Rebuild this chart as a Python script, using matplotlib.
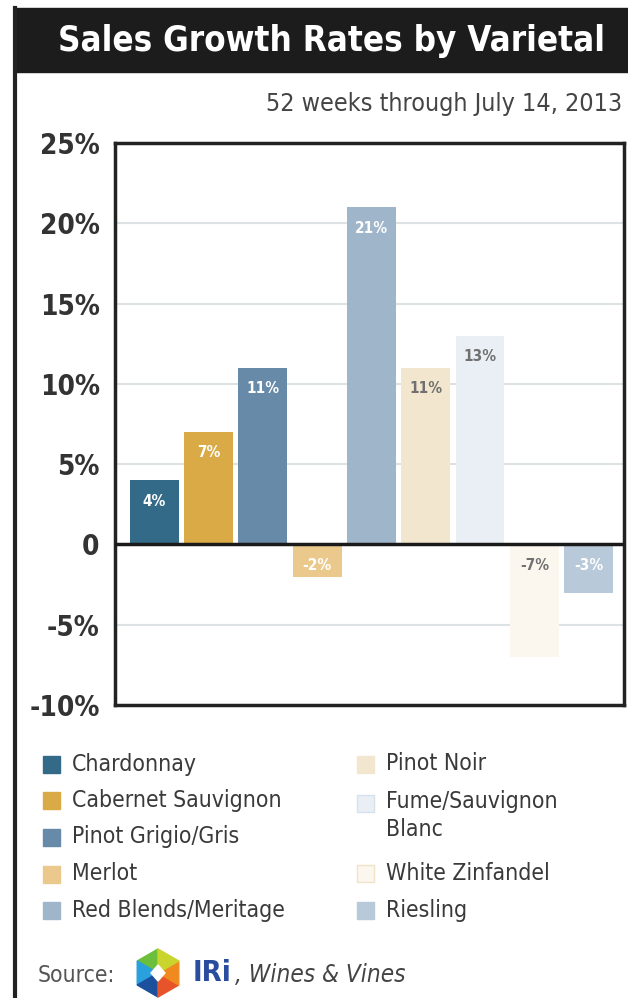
import os
import numpy as np
import matplotlib
matplotlib.use('Agg')
import matplotlib.pyplot as plt
from matplotlib.patches import Rectangle, Polygon
from matplotlib.lines import Line2D
from matplotlib import font_manager

varietals = ['Chardonnay', 'Cabernet Sauvignon', 'Pinot Grigio/Gris', 'Merlot',
             'Red Blends/Meritage', 'Pinot Noir', 'Fume/Sauvignon\nBlanc',
             'White Zinfandel', 'Riesling']
growth = [4, 7, 11, -2, 21, 11, 13, -7, -3]
colors = ['#336a87', '#d9aa45', '#668aa7', '#ebc98d', '#9fb5ca',
          '#f3e6cf', '#e9eff5', '#fbf6ee', '#b8c9da']
label_colors = ['white', 'white', 'white', 'white', 'white',
                '#707070', '#707070', '#707070', 'white']
yticks = [25, 20, 15, 10, 5, 0, -5, -10]
ytick_labels = ['25%', '20%', '15%', '10%', '5%', '0', '-5%', '-10%']

# look for a condensed face on the system, else plain DejaVu Sans
files = {os.path.basename(f.fname): f.fname for f in font_manager.fontManager.ttflist}

def cond_font(style):
    wanted = {
        'regular': ['DejaVuSansCondensed.ttf', 'LiberationSansNarrow-Regular.ttf',
                    'NotoSans-Condensed.ttf', 'NotoSans-CondensedRegular.ttf'],
        'bold': ['DejaVuSansCondensed-Bold.ttf', 'LiberationSansNarrow-Bold.ttf',
                 'NotoSans-CondensedBold.ttf'],
        'italic': ['DejaVuSansCondensed-Oblique.ttf', 'LiberationSansNarrow-Italic.ttf',
                   'NotoSans-CondensedItalic.ttf'],
    }[style]
    for w in wanted:
        if w in files:
            return font_manager.FontProperties(fname=files[w]), True
    fp = font_manager.FontProperties(family='DejaVu Sans',
                                     weight='bold' if style == 'bold' else 'normal',
                                     style='italic' if style == 'italic' else 'normal')
    return fp, False

f_reg, ok_reg = cond_font('regular')
f_bold, ok_bold = cond_font('bold')
f_ital, ok_ital = cond_font('italic')
shrink = 1.0 if ok_bold else 0.86

W, H = 628, 998
fig = plt.figure(figsize=(W / 100, H / 100), dpi=100)

def fx(x):
    return x / W

def fy(y):
    return 1 - y / H

def fp(base, size):
    p = base.copy()
    p.set_size(size)
    return p

# title band and outer frame
fig.add_artist(Rectangle((fx(15), fy(72)), fx(628 - 15), 64 / H, color='#1c1c1c',
                         transform=fig.transFigure))
fig.add_artist(Line2D([fx(15), fx(15)], [fy(8), 0], color='#222222', lw=3,
                      transform=fig.transFigure))
fig.text(fx(332), fy(41), 'Sales Growth Rates by Varietal', color='white',
         fontproperties=fp(f_bold, 25 * shrink), ha='center', va='center')
fig.text(fx(622), fy(104), '52 weeks through July 14, 2013', color='#444444',
         fontproperties=fp(f_reg, 18 * shrink), ha='right', va='center')

ax = fig.add_axes([fx(115), fy(705), fx(624 - 115), (705 - 143) / H])
x = np.arange(len(growth))
ax.bar(x, growth, width=0.9, color=colors, zorder=3)
for xi, v, lc in zip(x, growth, label_colors):
    ypos = v - 1.3 if v > 0 else -1.3
    ax.text(xi, ypos, f'{v}%', ha='center', va='center', color=lc,
            fontproperties=fp(f_bold, 11), zorder=4)

ax.set_ylim(-10, 25)
ax.set_xlim(-0.72, 8.65)
ax.set_xticks([])
ax.set_yticks(yticks)
ax.set_yticklabels(ytick_labels, color='#333333')
for lab in ax.get_yticklabels():
    lab.set_fontproperties(fp(f_bold, 20 * shrink))
ax.tick_params(axis='y', length=0, pad=11)
for t in [20, 15, 10, 5, -5]:
    ax.axhline(t, color='#dde2e4', lw=1.5, zorder=1)
ax.axhline(0, color='#1a1a1a', lw=2.5, zorder=5)
for s in ax.spines.values():
    s.set_linewidth(2.5)
    s.set_color('#222222')

# legend, two columns
rows = [(0, 43, 764), (1, 43, 800), (2, 43, 837), (3, 43, 874), (4, 43, 910),
        (5, 357, 764), (6, 357, 803), (7, 357, 873), (8, 357, 910)]
edges = {6: '#d6e1eb', 7: '#f1e3c8'}
for i, xs, yy in rows:
    fig.add_artist(Rectangle((fx(xs), fy(yy + 9)), fx(17), 17 / H,
                             facecolor=colors[i], edgecolor=edges.get(i, colors[i]), lw=1,
                             transform=fig.transFigure))
    multi = '\n' in varietals[i]
    fig.text(fx(xs + 29), fy(yy - 13) if multi else fy(yy), varietals[i], color='#3a3a3a',
             fontproperties=fp(f_reg, 16.5 * shrink), ha='left',
             va='top' if multi else 'center', linespacing=1.25)

# source line with IRi logo
fig.text(fx(38), fy(975), 'Source:', color='#555555', fontproperties=fp(f_reg, 16.5 * shrink),
         ha='left', va='center')
cx, cy, r = 158, 973, 24
ang = np.deg2rad(np.arange(90, 450, 60))
hexpts = [(cx + r * np.cos(a), cy - r * np.sin(a)) for a in ang]
seg_colors = ['#6cbf3c', '#2aa0dc', '#1c4f9c', '#e8542a', '#f08a1f', '#c9d42c']
for k in range(6):
    p0 = hexpts[k]
    p1 = hexpts[(k + 1) % 6]
    pts = [(fx(cx), fy(cy)), (fx(p0[0]), fy(p0[1])), (fx(p1[0]), fy(p1[1]))]
    fig.add_artist(Polygon(pts, closed=True, color=seg_colors[k], transform=fig.transFigure))
dia = [(cx, cy - 8), (cx + 7, cy), (cx, cy + 8), (cx - 7, cy)]
fig.add_artist(Polygon([(fx(a), fy(b)) for a, b in dia], closed=True, color='white',
                       transform=fig.transFigure))
fig.text(fx(193), fy(973), 'IRi', color='#2a4c9e', fontproperties=fp(f_bold, 21 * shrink),
         ha='left', va='center')
fig.text(fx(235), fy(975), ', Wines & Vines', color='#444444',
         fontproperties=fp(f_ital, 17.5 * shrink), ha='left', va='center')

fig.savefig('out.png', dpi=100)
